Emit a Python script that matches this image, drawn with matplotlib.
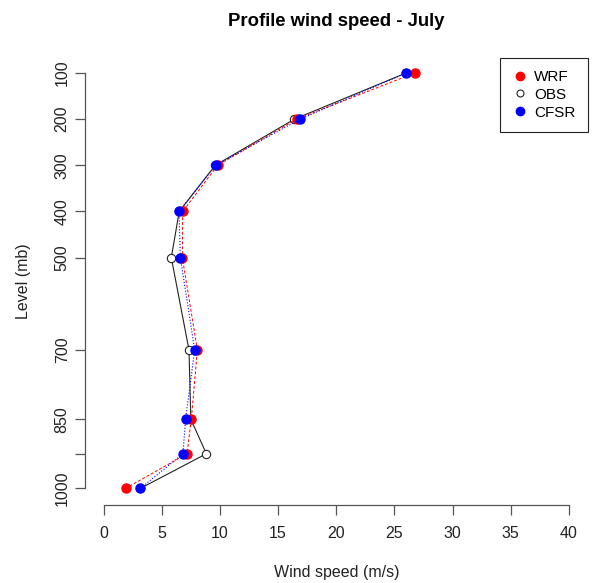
import matplotlib
matplotlib.use("Agg")
import matplotlib.pyplot as plt
from matplotlib.lines import Line2D

plt.rcParams["font.family"] = ["Liberation Sans", "DejaVu Sans"]

levels = [100, 200, 300, 400, 500, 700, 850, 925, 1000]
wrf = [26.75, 16.6, 9.8, 6.8, 6.77, 8.06, 7.54, 7.17, 1.89]
obs = [26.0, 16.4, 9.6, 6.5, 5.82, 7.34, 7.5, 8.83, 3.16]
cfsr = [26.0, 16.9, 9.63, 6.48, 6.6, 7.83, 7.05, 6.82, 3.16]

ytick_vals = [100, 200, 300, 400, 500, 700, 850, 925, 1000]
ytick_labels = ["100", "200", "300", "400", "500", "700", "850", "", "1000"]
xtick_vals = [0, 5, 10, 15, 20, 25, 30, 35, 40]

fig = plt.figure(figsize=(5.98, 5.83), dpi=100)
ax = fig.add_axes([0.1421, 0.1338, 0.8405, 0.7695])

ax.plot(obs, levels, "-", color="#222222", lw=0.8, marker="o", ms=6,
        mfc="white", mec="#222222", mew=0.8, zorder=2)
ax.plot(wrf, levels, "--", color="red", lw=0.7, dashes=(3, 2), zorder=3)
ax.plot(wrf, levels, "o", color="red", ms=6.5, zorder=3)
ax.plot(cfsr, levels, ":", color="blue", lw=0.8, zorder=4)
ax.plot(cfsr, levels, "o", color="blue", ms=6.5, zorder=4)

ax.set_xlim(-1.6, 41.6)
ax.set_ylim(1036, 64)

for s in ["top", "right"]:
    ax.spines[s].set_visible(False)
ax.spines["left"].set_bounds(100, 1000)
ax.spines["bottom"].set_bounds(0, 40)
for s in ["left", "bottom"]:
    ax.spines[s].set_color("#555555")
    ax.spines[s].set_linewidth(0.9)

ax.set_xticks(xtick_vals)
ax.set_yticks(ytick_vals)
ax.set_yticklabels(ytick_labels, rotation=90, va="center")
ax.tick_params(axis="x", length=7, width=0.9, color="#555555", pad=8,
               labelsize=11.5, labelcolor="#222222")
ax.tick_params(axis="y", length=7, width=0.9, color="#555555", pad=4,
               labelsize=11.5, labelcolor="#222222")

fig.text(0.5628, 1 - 21 / 583, "Profile wind speed - July", ha="center", va="center",
         fontsize=13.3, fontweight="bold")
fig.text(0.5628, 1 - 572 / 583, "Wind speed (m/s)", ha="center", va="center",
         fontsize=11.5, color="#222222")
fig.text(24 / 598, 1 - 281 / 583, "Level (mb)", ha="center", va="center",
         rotation=90, fontsize=11.5, color="#222222")

handles = [
    Line2D([], [], ls="none", marker="o", color="red", ms=6),
    Line2D([], [], ls="none", marker="o", mfc="white", mec="#222222", mew=0.8, ms=5),
    Line2D([], [], ls="none", marker="o", color="blue", ms=6),
]
leg = ax.legend(handles, ["WRF", "OBS", "CFSR"], loc="upper right",
                bbox_to_anchor=(1.0, 0.997), borderaxespad=0, fancybox=False,
                edgecolor="#222222", framealpha=1, fontsize=11,
                handlelength=1.0, handletextpad=0.4, labelspacing=0.25,
                borderpad=0.8)
leg.get_frame().set_linewidth(0.8)

fig.savefig("out.png", dpi=100)
